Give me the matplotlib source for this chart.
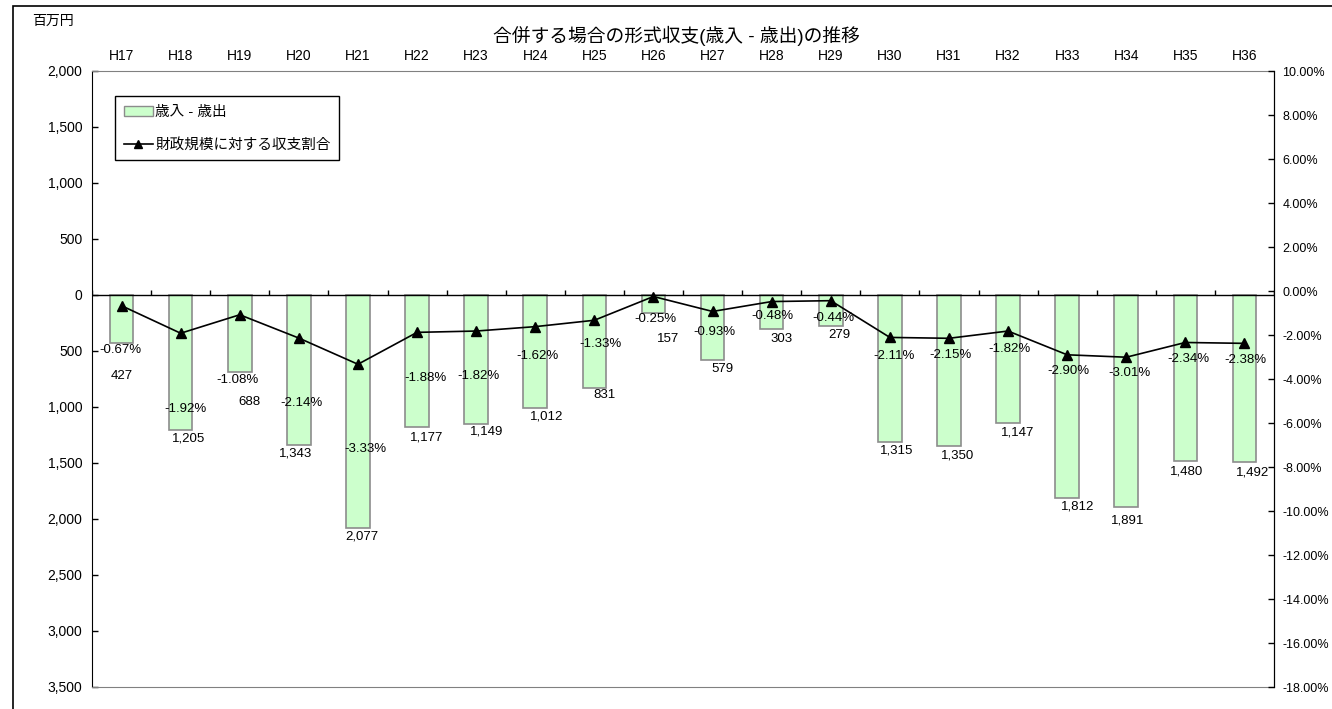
import numpy as np
import matplotlib
matplotlib.use('Agg')
import matplotlib.pyplot as plt
from matplotlib.patches import Rectangle, Patch
from matplotlib.lines import Line2D
from matplotlib.ticker import FuncFormatter

plt.rcParams['font.family'] = ['Liberation Sans', 'Noto Sans CJK JP']

years = ['H17', 'H18', 'H19', 'H20', 'H21', 'H22', 'H23', 'H24', 'H25', 'H26',
         'H27', 'H28', 'H29', 'H30', 'H31', 'H32', 'H33', 'H34', 'H35', 'H36']
# 歳入 - 歳出 (百万円, all negative)
balance = [-427, -1205, -688, -1343, -2077, -1177, -1149, -1012, -831, -157,
           -579, -303, -279, -1315, -1350, -1147, -1812, -1891, -1480, -1492]
# 財政規模に対する収支割合 (%)
ratio = [-0.67, -1.92, -1.08, -2.14, -3.33, -1.88, -1.82, -1.62, -1.33, -0.25,
         -0.93, -0.48, -0.44, -2.11, -2.15, -1.82, -2.90, -3.01, -2.34, -2.38]

# label offsets in pixels (dx, dy below), like Excel's placement
bar_lab_dx = [0, 8, 10, -3, 4, 10, 10, 11, 10, 15, 10, 10, 9, 7, 9, 10, 10, 1, 1, 8]
bar_lab_dy = [33, 9, 30, 8, 9, 11, 8, 8, 7, 26, 9, 10, 9, 8, 9, 9, 9, 14, 11, 10]
pct_lab_dx = [-1, 5, -2, 3, 7, 8, 2, 2, 6, 2, 2, 1, 3, 4, 2, 1, 1, 3, 3, 1]
pct_lab_dy = [44, 76, 65, 65, 85, 46, 45, 29, 24, 22, 21, 14, 17, 19, 17, 18, 16, 16, 17, 17]

x = np.arange(len(years))

fig = plt.figure(figsize=(13.32, 7.09), dpi=100)
W, H = 1332, 709

# outer chart border
fig.patches.append(Rectangle((13 / W, -0.1), 2, 1.1 - 6 / H, transform=fig.transFigure,
                             fill=False, edgecolor='black', lw=1.2))

ax = fig.add_axes([92 / W, (H - 687) / H, (1274 - 92) / W, (687 - 71) / H])
ax.set_xlim(-0.5, len(years) - 0.5)
ax.set_ylim(-3500, 2000)

ax.bar(x, balance, width=0.4, color='#CCFFCC', edgecolor='#8c8c8c', lw=1.2, zorder=2)
ax.axhline(0, color='black', lw=1.0, zorder=3)
ax.vlines(np.arange(len(years) + 1) - 0.5, 0, 45, color='black', lw=1.0, zorder=3)

for i, v in enumerate(balance):
    ax.annotate(f'{abs(v):,}', (x[i], v), xytext=(bar_lab_dx[i], -bar_lab_dy[i]),
                textcoords='offset pixels', ha='center', va='center', fontsize=9.5)

ax.set_yticks(np.arange(-3500, 2001, 500))
ax.yaxis.set_major_formatter(FuncFormatter(lambda v, p: f'{abs(int(v)):,}'))
ax.tick_params(axis='y', direction='in', length=4, width=1, pad=7, labelsize=10)
ax.xaxis.tick_top()
ax.set_xticks(x, years)
ax.tick_params(axis='x', length=0, pad=6, labelsize=10)
for s in ['top', 'bottom']:
    ax.spines[s].set_color('#808080')
ax.spines['left'].set_color('black')

ax2 = ax.twinx()
ax2.set_ylim(-18, 10)
ax2.plot(x, ratio, color='black', lw=1.2, marker='^', ms=7, zorder=4)
for i, v in enumerate(ratio):
    ax2.annotate(f'{v:.2f}%', (x[i], v), xytext=(pct_lab_dx[i], -pct_lab_dy[i]),
                 textcoords='offset pixels', ha='center', va='center', fontsize=9.5)
ax2.set_yticks(np.arange(-18, 11, 2))
ax2.yaxis.set_major_formatter(FuncFormatter(lambda v, p: f'{v:.2f}%'))
ax2.tick_params(axis='y', direction='in', length=4, width=1, pad=6, labelsize=9)
ax2.spines['right'].set_color('black')
ax2.spines['top'].set_visible(False)
ax2.spines['bottom'].set_visible(False)
ax2.spines['left'].set_visible(False)

handles = [Patch(facecolor='#CCFFCC', edgecolor='#8c8c8c'),
           Line2D([], [], color='black', lw=1.2, marker='^', ms=6)]
leg = ax.legend(handles, ['歳入 - 歳出', '財政規模に対する収支割合'],
                loc='upper left', bbox_to_anchor=(115 / W, 1 - 96 / H),
                bbox_transform=fig.transFigure, borderaxespad=0, fancybox=False,
                framealpha=1, edgecolor='black', fontsize=10.5, handlelength=2.0,
                handletextpad=0.15, borderpad=0.6, labelspacing=1.3)
leg.get_frame().set_linewidth(1.0)
leg.set_zorder(5)

fig.text(676 / W, 1 - 36 / H, '合併する場合の形式収支(歳入 - 歳出)の推移',
         ha='center', va='center', fontsize=13.5)
fig.text(32 / W, 1 - 21 / H, '百万円', ha='left', va='center', fontsize=10)

fig.savefig('out.png', dpi=100)
